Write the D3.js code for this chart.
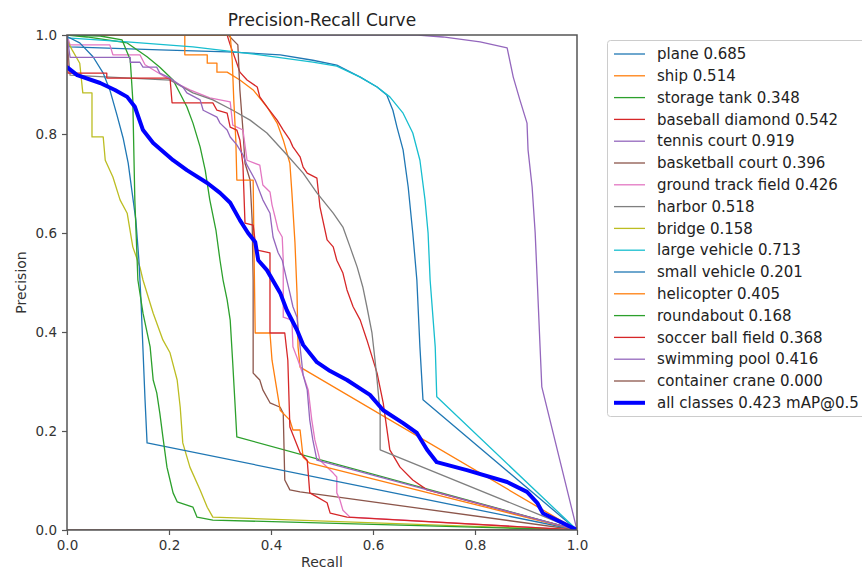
<!DOCTYPE html>
<html>
<head>
<meta charset="utf-8">
<title>Precision-Recall Curve</title>
<style>
body { margin: 0; background: #fff; }
svg { display: block; font-family: 'DejaVu Sans', sans-serif; }
.axis text { font-size: 13.5px; fill: #333; font-family: 'DejaVu Sans', sans-serif; }
.axis line { stroke: #555; stroke-width: 1.2px; }
.axis path { display: none; }
.legend text { font-size: 15px; fill: #222; }
</style>
</head>
<body>
<div id="chart"></div>
<script src="https://d3js.org/d3.v7.min.js"></script>
<script>

// class names and AP@0.5 (legend)
var classNames = ["plane", "ship", "storage tank", "baseball diamond", "tennis court",
    "basketball court", "ground track field", "harbor", "bridge", "large vehicle",
    "small vehicle", "helicopter", "roundabout", "soccer ball field", "swimming pool",
    "container crane"];
var classAP = [0.685, 0.514, 0.348, 0.542, 0.919, 0.396, 0.426, 0.518, 0.158, 0.713,
    0.201, 0.405, 0.168, 0.368, 0.416, 0.000];
var meanAP = 0.423;

var tickValues = [0, 0.2, 0.4, 0.6, 0.8, 1.0];

// [recall, precision] points
var plane = [[0,0.99],[0.006,0.976],[0.182,0.97],[0.314,0.966],[0.418,0.96],[0.482,0.949],
    [0.529,0.939],[0.575,0.915],[0.608,0.895],[0.627,0.879],[0.639,0.848],[0.647,0.814],
    [0.659,0.768],[0.669,0.693],[0.678,0.6],[0.686,0.505],[0.692,0.37],[0.698,0.263],[1,0]];
var ship = [[0,1],[0.231,1],[0.231,0.96],[0.275,0.96],[0.275,0.943],[0.294,0.943],
    [0.294,0.925],[0.314,0.925],[0.339,0.909],[0.365,0.889],[0.392,0.855],[0.412,0.822],
    [0.424,0.788],[0.437,0.741],[0.441,0.681],[0.447,0.58],[0.451,0.479],[0.453,0.37],
    [0.457,0.329],[1,0]];
var storageTank = [[0,1],[0.039,0.996],[0.118,0.984],[0.157,0.956],[0.182,0.935],
    [0.208,0.909],[0.235,0.855],[0.247,0.822],[0.261,0.774],[0.271,0.727],[0.28,0.667],
    [0.292,0.606],[0.3,0.545],[0.306,0.505],[0.314,0.465],[0.32,0.424],[0.325,0.337],
    [0.329,0.263],[0.333,0.188],[1,0]];
var baseballDiamond = [[0,1],[0.314,1],[0.32,0.98],[0.333,0.943],[0.339,0.925],[0.353,0.909],
    [0.373,0.895],[0.378,0.875],[0.392,0.855],[0.412,0.828],[0.424,0.808],[0.437,0.788],
    [0.443,0.774],[0.457,0.754],[0.463,0.733],[0.471,0.721],[0.49,0.711],[0.496,0.653],
    [0.51,0.586],[0.522,0.572],[0.529,0.545],[0.541,0.519],[0.549,0.485],[0.561,0.451],
    [0.575,0.424],[0.588,0.384],[0.608,0.317],[0.62,0.257],[0.633,0.162],[0.653,0.127],
    [0.678,0.101],[0.706,0.081],[1,0]];
var tennisCourt = [[0,1],[0.688,1],[0.737,0.996],[0.81,0.986],[0.863,0.974],[0.875,0.915],
    [0.888,0.869],[0.902,0.822],[0.904,0.768],[0.912,0.693],[0.918,0.6],[0.922,0.505],
    [0.927,0.384],[0.931,0.289],[1,0]];
var basketballCourt = [[0,1],[0.316,1],[0.335,0.98],[0.339,0.889],[0.345,0.808],[0.349,0.741],
    [0.359,0.707],[0.363,0.626],[0.365,0.505],[0.365,0.317],[0.378,0.303],[0.384,0.283],
    [0.398,0.257],[0.418,0.248],[0.424,0.236],[0.427,0.101],[0.437,0.081],[0.457,0.077],[1,0]];
var groundTrackField = [[0,1],[0.006,0.98],[0.084,0.98],[0.09,0.96],[0.143,0.96],[0.153,0.94],
    [0.202,0.909],[0.241,0.889],[0.28,0.873],[0.32,0.865],[0.325,0.818],[0.345,0.808],
    [0.353,0.747],[0.378,0.737],[0.384,0.697],[0.398,0.683],[0.402,0.657],[0.408,0.632],
    [0.414,0.606],[0.422,0.592],[0.424,0.545],[0.424,0.43],[0.441,0.424],[0.443,0.37],
    [0.453,0.343],[0.463,0.313],[0.473,0.283],[0.48,0.222],[0.486,0.182],[0.496,0.141],
    [0.522,0.115],[0.529,0.107],[0.529,0.075],[0.535,0.061],[0.541,0.04],[0.555,0.026],[1,0]];
var harbor = [[0,0.99],[0.006,0.919],[0.202,0.909],[0.247,0.883],[0.286,0.869],[0.325,0.848],
    [0.359,0.828],[0.392,0.802],[0.431,0.758],[0.463,0.721],[0.49,0.681],[0.522,0.64],
    [0.541,0.612],[0.555,0.572],[0.569,0.531],[0.58,0.491],[0.588,0.451],[0.598,0.398],
    [0.604,0.343],[0.608,0.303],[0.614,0.236],[0.614,0.162],[1,0]];
var bridge = [[0,0.99],[0.01,0.97],[0.025,0.943],[0.031,0.883],[0.049,0.883],[0.049,0.794],
    [0.071,0.794],[0.075,0.747],[0.09,0.713],[0.104,0.667],[0.118,0.64],[0.129,0.572],
    [0.143,0.531],[0.149,0.505],[0.169,0.438],[0.188,0.384],[0.202,0.358],[0.216,0.303],
    [0.222,0.248],[0.227,0.176],[0.241,0.127],[0.261,0.081],[0.275,0.046],[0.286,0.026],[1,0]];
var largeVehicle = [[0,0.994],[0.118,0.986],[0.247,0.976],[0.378,0.96],[0.482,0.945],
    [0.529,0.937],[0.575,0.915],[0.608,0.895],[0.633,0.875],[0.659,0.842],[0.678,0.802],
    [0.692,0.747],[0.702,0.667],[0.708,0.6],[0.712,0.505],[0.722,0.37],[0.725,0.269],[1,0]];
var smallVehicle = [[0,1],[0.002,0.996],[0.025,0.984],[0.051,0.956],[0.071,0.923],
    [0.084,0.889],[0.098,0.838],[0.11,0.792],[0.12,0.741],[0.127,0.687],[0.135,0.626],
    [0.141,0.545],[0.145,0.465],[0.149,0.364],[0.153,0.263],[0.157,0.176],[1,0]];
var helicopter = [[0,1],[0.32,1],[0.324,0.949],[0.327,0.869],[0.331,0.788],[0.333,0.707],
    [0.365,0.707],[0.367,0.545],[0.369,0.398],[0.398,0.398],[0.402,0.343],[0.418,0.242],
    [0.437,0.222],[0.443,0.202],[0.457,0.202],[0.463,0.147],[0.476,0.135],[1,0]];
var roundabout = [[0,1],[0.065,0.998],[0.108,0.99],[0.124,0.95],[0.129,0.869],[0.133,0.667],
    [0.139,0.505],[0.149,0.438],[0.163,0.37],[0.169,0.303],[0.176,0.277],[0.182,0.236],
    [0.188,0.188],[0.196,0.127],[0.202,0.101],[0.208,0.075],[0.216,0.057],[0.247,0.046],
    [0.255,0.026],[0.286,0.02],[1,0]];
var soccerBallField = [[0,1],[0.002,0.923],[0.078,0.923],[0.078,0.913],[0.202,0.913],
    [0.206,0.863],[0.286,0.863],[0.294,0.848],[0.314,0.842],[0.32,0.814],[0.333,0.808],
    [0.339,0.788],[0.345,0.737],[0.349,0.62],[0.365,0.616],[0.371,0.566],[0.398,0.56],
    [0.398,0.398],[0.427,0.398],[0.433,0.343],[0.437,0.208],[0.457,0.156],[0.471,0.141],
    [0.476,0.075],[0.49,0.067],[0.51,0.055],[0.516,0.034],[0.549,0.026],[1,0]];
var swimmingPool = [[0,1],[0.006,0.955],[0.124,0.955],[0.124,0.945],[0.143,0.945],
    [0.149,0.935],[0.176,0.935],[0.182,0.923],[0.202,0.913],[0.227,0.895],[0.235,0.883],
    [0.261,0.869],[0.267,0.848],[0.294,0.834],[0.3,0.822],[0.314,0.808],[0.32,0.794],
    [0.333,0.778],[0.345,0.758],[0.353,0.737],[0.369,0.707],[0.384,0.667],[0.398,0.64],
    [0.404,0.592],[0.414,0.56],[0.422,0.545],[0.431,0.505],[0.437,0.479],[0.443,0.451],
    [0.451,0.43],[0.457,0.37],[0.463,0.313],[0.471,0.283],[0.476,0.222],[0.482,0.182],
    [0.49,0.141],[1,0]];
var containerCrane = [[0,0],[1,0]];
var allClasses = [[0,0.935],[0.02,0.919],[0.065,0.903],[0.094,0.889],[0.118,0.875],
    [0.133,0.855],[0.149,0.808],[0.169,0.782],[0.208,0.747],[0.235,0.727],[0.275,0.701],
    [0.3,0.681],[0.32,0.661],[0.339,0.626],[0.355,0.6],[0.369,0.582],[0.375,0.545],
    [0.392,0.525],[0.418,0.479],[0.431,0.444],[0.451,0.404],[0.463,0.374],[0.49,0.339],
    [0.516,0.321],[0.549,0.303],[0.594,0.273],[0.62,0.242],[0.659,0.216],[0.686,0.196],
    [0.706,0.162],[0.725,0.137],[0.784,0.121],[0.863,0.097],[0.902,0.077],[0.922,0.055],
    [0.933,0.034],[1,0]];

var curves = [plane, ship, storageTank, baseballDiamond, tennisCourt, basketballCourt,
    groundTrackField, harbor, bridge, largeVehicle, smallVehicle, helicopter, roundabout,
    soccerBallField, swimmingPool, containerCrane];

var colors = d3.schemeCategory10;

var margin = {top: 35, right: 285, bottom: 42, left: 67},
    width  = 862 - margin.left - margin.right,
    height = 572 - margin.top - margin.bottom;

var x = d3.scaleLinear().domain([0, 1]).range([0, width]);
var y = d3.scaleLinear().domain([0, 1]).range([height, 0]);

var line = d3.line()
    .x(function(d) { return x(d[0]); })
    .y(function(d) { return y(d[1]); });

var svg = d3.select("#chart")
    .append("svg")
    .attr("width", 862)
    .attr("height", 572);

var chart = svg.append("g")
    .attr("transform", "translate(" + margin.left + "," + margin.top + ")");

chart.append("clipPath")
    .attr("id", "plot-clip")
  .append("rect")
    .attr("width", width)
    .attr("height", height);

var lines = chart.append("g").attr("clip-path", "url(#plot-clip)");

curves.forEach(function(c, i) {
    lines.append("path")
        .datum(c)
        .attr("d", line)
        .style("fill", "none")
        .style("stroke", colors[i % 10])
        .style("stroke-width", "1.3px")
        .style("stroke-linejoin", "round");
});

lines.append("path")
    .datum(allClasses)
    .attr("d", line)
    .style("fill", "none")
    .style("stroke", "#0000ff")
    .style("stroke-width", "4px")
    .style("stroke-linejoin", "round")
    .style("stroke-linecap", "round");

// axes
chart.append("g")
    .attr("class", "axis")
    .attr("transform", "translate(0," + height + ")")
    .call(d3.axisBottom(x).tickValues(tickValues).tickFormat(d3.format(".1f")).tickSize(5).tickPadding(5));

chart.append("g")
    .attr("class", "axis")
    .call(d3.axisLeft(y).tickValues(tickValues).tickFormat(d3.format(".1f")).tickSize(5).tickPadding(5));

// frame
chart.append("rect")
    .attr("width", width)
    .attr("height", height)
    .style("fill", "none")
    .style("stroke", "#555")
    .style("stroke-width", "1.5px");

// titles
svg.append("text")
    .attr("x", margin.left + width / 2)
    .attr("y", 26)
    .attr("text-anchor", "middle")
    .style("font-size", "17px")
    .style("fill", "#222")
    .text("Precision-Recall Curve");

svg.append("text")
    .attr("x", margin.left + width / 2)
    .attr("y", 562)
    .attr("dy", "0.35em")
    .attr("text-anchor", "middle")
    .style("font-size", "14px")
    .style("fill", "#333")
    .text("Recall");

svg.append("text")
    .attr("transform", "translate(21," + (margin.top + height / 2) + ") rotate(-90)")
    .attr("dy", "0.35em")
    .attr("text-anchor", "middle")
    .style("font-size", "14px")
    .style("fill", "#333")
    .text("Precision");

// legend
var legend = svg.append("g").attr("class", "legend");

legend.append("rect")
    .attr("x", 607.5)
    .attr("y", 40.5)
    .attr("width", 280)
    .attr("height", 376)
    .attr("rx", 3)
    .style("fill", "#fff")
    .style("stroke", "#ccc");

var rowY = function(i) { return 54 + i * 21.8; };

classNames.forEach(function(name, i) {
    legend.append("line")
        .attr("x1", 614).attr("x2", 645)
        .attr("y1", rowY(i)).attr("y2", rowY(i))
        .style("stroke", colors[i % 10])
        .style("stroke-width", "1.3px");
    legend.append("text")
        .attr("x", 657)
        .attr("y", rowY(i))
        .attr("dy", "0.35em")
        .text(name + " " + classAP[i].toFixed(3));
});

legend.append("line")
    .attr("x1", 614).attr("x2", 645)
    .attr("y1", rowY(16)).attr("y2", rowY(16))
    .style("stroke", "#0000ff")
    .style("stroke-width", "4px");
legend.append("text")
    .attr("x", 657)
    .attr("y", rowY(16))
    .attr("dy", "0.35em")
    .text("all classes " + meanAP.toFixed(3) + " mAP@0.5");

</script>
</body>
</html>
